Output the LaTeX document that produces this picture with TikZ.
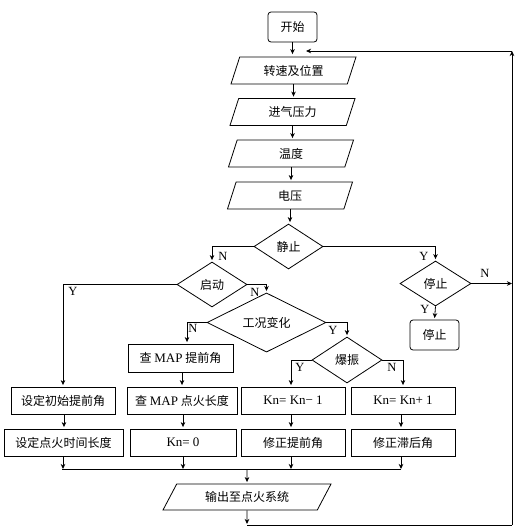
\documentclass[tikz,border=0pt]{standalone}
\usepackage{fontspec}
\setmainfont{Liberation Serif}
\newfontfamily\cjk{Noto Sans CJK SC}
\usetikzlibrary{shapes.geometric,arrows.meta}
\newcommand\latn[1]{{\rmfamily\fontsize{13}{15}\selectfont #1}}
\begin{document}
\begin{tikzpicture}[x=1pt,y=-1pt,line width=0.8pt,
  every node/.style={inner sep=0pt,font=\cjk\fontsize{12}{14}\selectfont},
  box/.style={draw,rectangle,minimum height=27pt},
  term/.style={draw,rectangle,rounded corners=3pt,minimum width=49pt,minimum height=30pt},
  io/.style={draw,trapezium,trapezium left angle=52,trapezium right angle=128,
    trapezium stretches body,minimum width=125pt,minimum height=27pt},
  dec/.style={draw,diamond},
  lab/.style={font=\rmfamily\fontsize{12.5}{14}\selectfont},
  arr/.style={-{Stealth[length=5pt,width=4.5pt,inset=1.5pt]},shorten >=1.5pt}]
\useasboundingbox (0,0) rectangle (517,530);
% nodes
\node[term] (start) at (292.5,27) {开始};
\node[io] (p1) at (293.5,70.5) {转速及位置};
\node[io] (p2) at (292.5,112) {进气压力};
\node[io] (p3) at (291,153.5) {温度};
\node[io] (p4) at (290,195.5) {电压};
\node[dec,minimum width=69pt,minimum height=45pt] (d1) at (288.5,246.5) {静止};
\node[dec,minimum width=70pt,minimum height=45pt] (d2) at (212,284.5) {启动};
\node[dec,minimum width=71pt,minimum height=45pt] (d3) at (435.5,283.5) {停止};
\node[term] (stop) at (434.5,335) {停止};
\node[dec,minimum width=119pt,minimum height=45pt] (d4) at (266.5,322.5) {工况变化};
\node[box,minimum width=105pt,minimum height=28pt] (m1) at (180.5,358) {查 \latn{MAP} 提前角};
\node[dec,minimum width=70pt,minimum height=46pt] (d5) at (347,360) {爆振};
\node[box,minimum width=104pt] (b1) at (63,400.5) {设定初始提前角};
\node[box,minimum width=110pt] (b2) at (182,400.5) {查 \latn{MAP} 点火长度};
\node[box,minimum width=104pt] (b3) at (293,400.5) {\latn{Kn= Kn− 1}};
\node[box,minimum width=104pt] (b4) at (403,400.5) {\latn{Kn= Kn+ 1}};
\node[box,minimum width=119pt] (c1) at (63.5,442.5) {设定点火时间长度};
\node[box,minimum width=106pt] (c2) at (183,442.5) {\latn{Kn= 0}};
\node[box,minimum width=104pt] (c3) at (293,442.5) {修正提前角};
\node[box,minimum width=104pt] (c4) at (403,442.5) {修正滞后角};
\node[io,trapezium left angle=39,trapezium right angle=141,minimum width=168pt,minimum height=26pt] (out) at (247,497) {输出至点火系统};
% coordinates
\coordinate (bl) at (247,525);
\coordinate (br) at (512,525);
\coordinate (tr) at (512,51);
\coordinate (tl) at (306,51);
\coordinate (cl) at (62,469);
\coordinate (cr) at (401,469);
\coordinate (cm) at (247,469);
% main chain
\draw[arr,shorten >=2.5pt] (start.south) -- (start.south |- p1.north);
\draw[arr] (p1.south) -- (p1.south |- p2.north);
\draw[arr] (p2.south) -- (p2.south |- p3.north);
\draw[arr] (p3.south) -- (p3.south |- p4.north);
\draw[arr] (p4.south) -- (p4.south |- d1.north);
% branches
\draw[arr] (d1.west) -| (d2.north);
\draw[arr] (d1.east) -| (d3.north);
\draw[arr] (d2.west) -| (b1.north);
\draw[arr] (d2.east) -| (d4.north);
\draw[arr] (d4.west) -| ([xshift=6.5pt]m1.north);
\draw[arr] (d4.east) -| (d5.north);
\draw[arr] (d5.west) -| ([xshift=-2pt]b3.north);
\draw[arr] (d5.east) -| (b4.north);
\draw[arr] (d3.south) -- (stop.north);
\draw[arr,shorten >=0pt] (d3.east) -- (d3.east -| tr);
\draw[arr] (m1.south -| b2.north) -- (b2.north);
\draw[arr] ([xshift=1pt]b1.south) -- ([xshift=1pt]c1.north -| b1.south);
\draw[arr] (b2.south -| c2.north) -- (c2.north);
\draw[arr] ([xshift=-2pt]b3.south) -- ([xshift=-2pt]c3.north);
\draw[arr] ([xshift=-2pt]b4.south) -- ([xshift=-2pt]c4.north);
% collector
\draw (cl) -- (cr);
\draw[arr,shorten >=0pt] (c1.south -| b1.south) -- (cl -| b1.south);
\draw[arr,shorten >=0pt] (c2.south) -- (cl -| c2.south);
\draw[arr,shorten >=0pt] ([xshift=-2pt]c3.south) -- ([xshift=-2pt]cl -| c3.south);
\draw[arr,shorten >=0pt] ([xshift=-2pt]c4.south) -- ([xshift=-2pt]cl -| c4.south);
\draw[arr] (cm) -- (out.north);
% loop back
\draw[arr,shorten >=1pt] (out.south) -- (bl);
\draw (bl) -- (br);
\draw[arr,shorten >=0pt] (br) -- (tr);
\draw[arr,shorten >=0pt] (tr) -- (tl);
% labels
\node[lab] (l1) at (223,256) {N};
\node[lab] (l2) at (424,256) {Y};
\node[lab] (l3) at (73,291) {Y};
\node[lab] (l4) at (255,292) {N};
\node[lab] (l5) at (193,328) {N};
\node[lab] (l6) at (333,330) {Y};
\node[lab] (l7) at (300,367) {Y};
\node[lab] (l8) at (392,367) {N};
\node[lab] (l9) at (485,273) {N};
\node[lab] (l10) at (425,309) {Y};
\end{tikzpicture}
\end{document}
